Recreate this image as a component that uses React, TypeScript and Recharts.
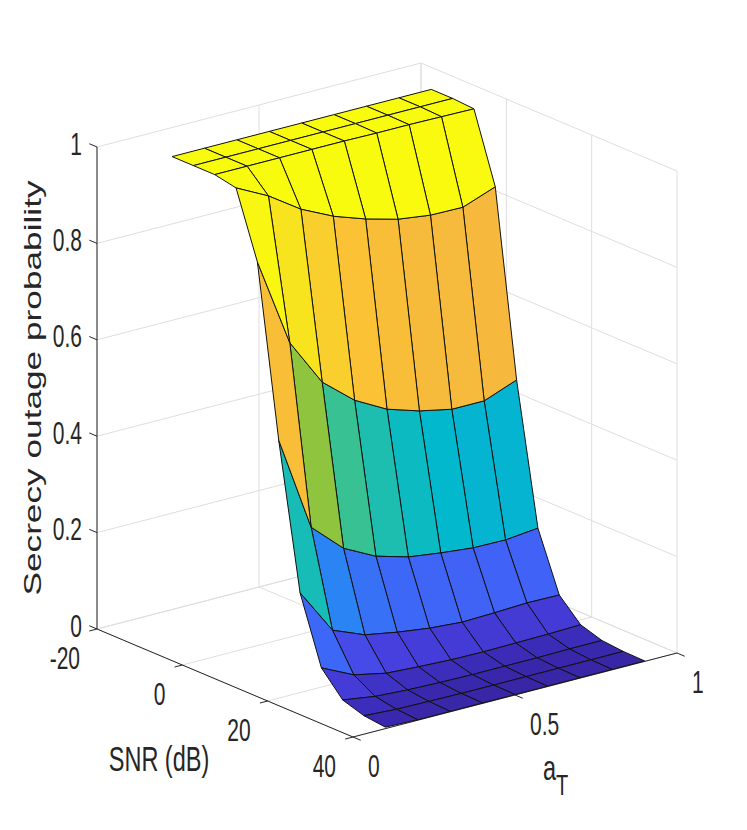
import React from "react";
import { Scatter, ScatterChart, XAxis, YAxis } from "recharts";

// surface grid: one row per SNR value, one column per a_T value
const snrDb = [-10, -5, 0, 5, 10, 15, 20, 25, 30, 35, 40];
const aTValues = [0.1, 0.2, 0.3, 0.4, 0.5, 0.6, 0.7, 0.8, 0.9];

const outageSnrM10 = [1, 1, 1, 1, 1, 1, 1, 1, 1];
const outageSnrM5 = [1, 1, 1, 1, 1, 1, 1, 1, 1];
const outageSnr0 = [1, 1, 1, 1, 1, 0.999, 0.999, 0.998, 0.997];
const outageSnr5 = [0.991, 0.957, 0.912, 0.88, 0.857, 0.839, 0.83, 0.829, 0.854];
const outageSnr10 = [0.856, 0.671, 0.572, 0.517, 0.481, 0.46, 0.446, 0.446, 0.472];
const outageSnr15 = [0.505, 0.307, 0.246, 0.212, 0.193, 0.184, 0.177, 0.176, 0.183];
const outageSnr20 = [0.207, 0.112, 0.085, 0.073, 0.064, 0.059, 0.061, 0.064, 0.063];
const outageSnr25 = [0.07, 0.038, 0.024, 0.02, 0.017, 0.016, 0.017, 0.018, 0.02];
const outageSnr30 = [0.022, 0.012, 0.008, 0.006, 0.005, 0.005, 0.005, 0.006, 0.006];
const outageSnr35 = [0.008, 0.004, 0.003, 0.002, 0.002, 0.002, 0.002, 0.002, 0.002];
const outageSnr40 = [0.003, 0.001, 0.001, 0.001, 0.001, 0.001, 0.001, 0.001, 0.001];

const outageRows = [
  outageSnrM10,
  outageSnrM5,
  outageSnr0,
  outageSnr5,
  outageSnr10,
  outageSnr15,
  outageSnr20,
  outageSnr25,
  outageSnr30,
  outageSnr35,
  outageSnr40,
];

// axes
const snrRange = [-20, 40];
const aTRange = [0, 1];
const zRange = [0, 1];
const snrTicks = [-20, 0, 20, 40];
const aTTicks = [0, 0.5, 1];
const zTicks = [0, 0.2, 0.4, 0.6, 0.8, 1];
const snrTickLabels = ["-20", "0", "20", "40"];
const aTTickLabels = ["0", "0.5", "1"];
const zTickLabels = ["0", "0.2", "0.4", "0.6", "0.8", "1"];

// view: where one full axis range lands on the page (orthographic camera)
const chartWidth = 731;
const chartHeight = 814;
const view = {
  origin: [89, 621],
  snr: [256, 108],
  at: [324, -84],
  z: [0, -482],
};

const textColor = "#262626";
const fontFamily = "'Liberation Sans', Arial, Helvetica, sans-serif";
const textStretch = 1.5;

// parula-like colormap, tuned to the rendered colours
const colorStops: [number, number[]][] = [
  [0.0, [55, 38, 165]],
  [0.02, [60, 45, 188]],
  [0.05, [66, 55, 208]],
  [0.09, [72, 65, 225]],
  [0.16, [66, 96, 245]],
  [0.22, [60, 105, 247]],
  [0.3, [45, 130, 245]],
  [0.38, [15, 160, 225]],
  [0.46, [2, 184, 204]],
  [0.54, [40, 192, 165]],
  [0.6, [70, 196, 130]],
  [0.67, [142, 196, 62]],
  [0.75, [215, 190, 60]],
  [0.82, [245, 184, 62]],
  [0.88, [250, 194, 52]],
  [0.94, [248, 218, 38]],
  [1.0, [249, 251, 14]],
];

const norm = (value: number, range: number[]) =>
  (value - range[0]) / (range[1] - range[0]);

const project = (snr: number, a: number, z: number) => {
  const u = norm(snr, snrRange);
  const v = norm(a, aTRange);
  const w = norm(z, zRange);
  return {
    x: view.origin[0] + u * view.snr[0] + v * view.at[0] + w * view.z[0],
    y: view.origin[1] + u * view.snr[1] + v * view.at[1] + w * view.z[1],
  };
};

// direction that the projection flattens: larger value = farther away
const viewDir = [
  view.at[0] * view.z[1] - view.z[0] * view.at[1],
  view.z[0] * view.snr[1] - view.snr[0] * view.z[1],
  view.snr[0] * view.at[1] - view.at[0] * view.snr[1],
];
const depthOf = (snr: number, a: number, z: number) =>
  viewDir[0] * norm(snr, snrRange) +
  viewDir[1] * norm(a, aTRange) +
  viewDir[2] * norm(z, zRange);

const allValues = outageRows.flat();
const cMin = Math.min(...allValues);
const cMax = Math.max(...allValues);

const colorOf = (value: number) => {
  const t = Math.min(1, Math.max(0, (value - cMin) / (cMax - cMin)));
  for (let k = 1; k < colorStops.length; k++) {
    const [p1, c1] = colorStops[k];
    if (t <= p1) {
      const [p0, c0] = colorStops[k - 1];
      const f = (t - p0) / (p1 - p0);
      const c = c0.map((ch, i) => Math.round(ch + (c1[i] - ch) * f));
      return `rgb(${c[0]},${c[1]},${c[2]})`;
    }
  }
  return "rgb(249,251,14)";
};

// faces, far to near; colour from the first corner like flat shading
const faces: { corners: number[][]; color: string; depth: number }[] = [];
for (let i = 0; i < snrDb.length - 1; i++) {
  for (let j = 0; j < aTValues.length - 1; j++) {
    const corners = [
      [i, j],
      [i, j + 1],
      [i + 1, j + 1],
      [i + 1, j],
    ].map(([r, c]) => [snrDb[r], aTValues[c], outageRows[r][c]]);
    const depth =
      corners.reduce((sum, p) => sum + depthOf(p[0], p[1], p[2]), 0) / 4;
    faces.push({ corners, color: colorOf(outageRows[i][j]), depth });
  }
}
faces.sort((a, b) => b.depth - a.depth);
const facePoints = faces.flatMap((f) => f.corners.map((p) => project(p[0], p[1], p[2])));

// light grid on the back walls and the floor
const gridPairs: number[][][] = [];
zTicks.forEach((z) => {
  gridPairs.push([[-20, 0, z], [-20, 1, z]]);
  gridPairs.push([[-20, 1, z], [40, 1, z]]);
});
aTTicks.forEach((a) => {
  gridPairs.push([[-20, a, 0], [-20, a, 1]]);
  gridPairs.push([[-20, a, 0], [40, a, 0]]);
});
snrTicks.forEach((s) => {
  gridPairs.push([[s, 1, 0], [s, 1, 1]]);
  gridPairs.push([[s, 0, 0], [s, 1, 0]]);
});
const gridPoints = gridPairs.flatMap((pair) => pair.map((p) => project(p[0], p[1], p[2])));

// axis lines and tick marks
const axisPairs: number[][][] = [
  [[-20, 0, 0], [-20, 0, 1]],
  [[-20, 0, 0], [40, 0, 0]],
  [[40, 0, 0], [40, 1, 0]],
];
zTicks.forEach((z) => axisPairs.push([[-20, 0, z], [-21.8, 0, z]]));
snrTicks.forEach((s) => axisPairs.push([[s, 0, 0], [s, -0.024, 0]]));
aTTicks.forEach((a) => axisPairs.push([[40, a, 0], [41.8, a, 0]]));
const axisPoints = axisPairs.flatMap((pair) => pair.map((p) => project(p[0], p[1], p[2])));

const tickLabelPoints = [
  ...snrTicks.map((s, k) => ({
    ...project(s, 0, 0),
    text: snrTickLabels[k],
    anchor: "end",
    dx: -17,
    dy: 29,
  })),
  ...aTTicks.map((a, k) => ({
    ...project(40, a, 0),
    text: aTTickLabels[k],
    anchor: "start",
    dx: 15,
    dy: 29,
  })),
  ...zTicks.map((z, k) => ({
    ...project(-20, 0, z),
    text: zTickLabels[k],
    anchor: "end",
    dx: -15,
    dy: -3,
  })),
];

const titlePoints = [
  { ...project(10, 0, 0), kind: "snr" },
  { ...project(40, 0.5, 0), kind: "at" },
  { ...project(-20, 0, 0.5), kind: "z" },
];

const emptyShape = () => <g />;

const Segments = (props: any) => {
  const { points, lineColor, lineWidth } = props;
  if (!points) return null;
  const lines = [];
  for (let k = 0; k + 1 < points.length; k += 2) {
    lines.push(
      <line
        key={k}
        x1={points[k].x}
        y1={points[k].y}
        x2={points[k + 1].x}
        y2={points[k + 1].y}
        stroke={lineColor}
        strokeWidth={lineWidth}
      />,
    );
  }
  return <g>{lines}</g>;
};

const FacePolygons = (props: any) => {
  const { points } = props;
  if (!points) return null;
  return (
    <g>
      {faces.map((face, k) => (
        <polygon
          key={k}
          points={points
            .slice(k * 4, k * 4 + 4)
            .map((p: any) => `${p.x},${p.y}`)
            .join(" ")}
          fill={face.color}
          stroke="#111111"
          strokeWidth={1}
          strokeLinejoin="round"
        />
      ))}
    </g>
  );
};

const renderTickLabel = (props: any) => {
  const { cx, cy, payload } = props;
  return (
    <text
      transform={`translate(${cx + payload.dx},${cy + payload.dy}) scale(1,${textStretch})`}
      textAnchor={payload.anchor}
      dominantBaseline="central"
      fontSize={21}
      fontFamily={fontFamily}
      fill={textColor}
    >
      {payload.text}
    </text>
  );
};

const renderTitle = (props: any) => {
  const { cx, cy, payload } = props;
  if (payload.kind === "snr") {
    return (
      <text
        transform={`translate(${cx - 66},${cy + 76}) scale(1,${textStretch})`}
        textAnchor="middle"
        dominantBaseline="central"
        fontSize={23.5}
        fontFamily={fontFamily}
        fill={textColor}
      >
        SNR (dB)
      </text>
    );
  }
  if (payload.kind === "at") {
    return (
      <text
        transform={`translate(${cx + 28},${cy + 85}) scale(1,${textStretch})`}
        textAnchor="start"
        fontSize={23.5}
        fontFamily={fontFamily}
        fill={textColor}
      >
        a
        <tspan fontSize={20} dy={10}>
          T
        </tspan>
      </text>
    );
  }
  return (
    <text
      transform={`translate(${cx - 64},${cy}) scale(1,${textStretch}) rotate(-90)`}
      textAnchor="middle"
      dominantBaseline="central"
      fontSize={23.5}
      fontFamily={fontFamily}
      fill={textColor}
    >
      Secrecy outage probability
    </text>
  );
};

export default function App() {
  return (
    <ScatterChart
      width={chartWidth}
      height={chartHeight}
      margin={{ top: 0, right: 0, bottom: 0, left: 0 }}
    >
      <XAxis type="number" dataKey="x" domain={[0, chartWidth]} hide allowDataOverflow />
      <YAxis
        type="number"
        dataKey="y"
        domain={[0, chartHeight]}
        reversed
        hide
        allowDataOverflow
      />
      <Scatter
        name="grid"
        data={gridPoints}
        shape={emptyShape}
        line={<Segments lineColor="#dedede" lineWidth={1} />}
        isAnimationActive={false}
      />
      <Scatter
        name="axes"
        data={axisPoints}
        shape={emptyShape}
        line={<Segments lineColor="#262626" lineWidth={1} />}
        isAnimationActive={false}
      />
      <Scatter
        name="surface"
        data={facePoints}
        shape={emptyShape}
        line={<FacePolygons />}
        isAnimationActive={false}
      />
      <Scatter
        name="tick labels"
        data={tickLabelPoints}
        shape={renderTickLabel}
        isAnimationActive={false}
      />
      <Scatter
        name="titles"
        data={titlePoints}
        shape={renderTitle}
        isAnimationActive={false}
      />
    </ScatterChart>
  );
}
